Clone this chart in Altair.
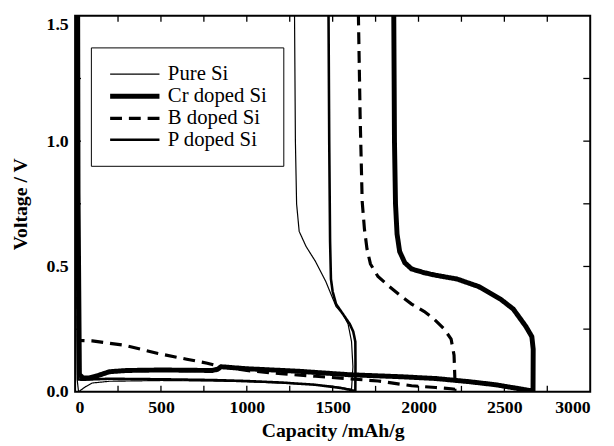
import altair as alt
import pandas as pd

series_names = ["Pure Si", "Cr doped Si", "B doped Si", "P doped Si"]

pure_cap = [8, 10, 12, 20, 60, 100, 200, 500, 800, 1000, 1200, 1400, 1500, 1610,
            1618, 1610, 1590, 1560, 1520, 1490, 1460, 1400, 1345, 1305, 1290, 1283, 1278]
pure_v = [1.5, 0.6, 0.05, 0.0, 0.02, 0.035, 0.042, 0.045, 0.043, 0.04, 0.035, 0.028, 0.022, 0.01,
          0.1, 0.2, 0.27, 0.31, 0.34, 0.39, 0.44, 0.52, 0.58, 0.64, 0.75, 1.0, 1.5]

cr_cap = [15, 17, 25, 45, 80, 120, 200, 300, 500, 800, 830, 850, 1000, 1300, 1600, 1900, 2100,
          2300, 2450, 2580, 2640, 2667, 2668, 2660, 2626, 2552, 2477, 2350, 2224, 2100, 2034,
          1960, 1920, 1890, 1875, 1866, 1860, 1856]
cr_v = [1.5, 0.8, 0.07, 0.055, 0.055, 0.062, 0.08, 0.085, 0.087, 0.085, 0.09, 0.10, 0.092, 0.082,
        0.068, 0.06, 0.053, 0.04, 0.028, 0.013, 0.006, 0.004, 0.17, 0.22, 0.26, 0.33, 0.37, 0.42,
        0.45, 0.465, 0.475, 0.49, 0.515, 0.56, 0.63, 0.75, 1.0, 1.5]

b_cap = [10, 12, 20, 100, 293, 483, 650, 770, 850, 1000, 1200, 1400, 1600, 1765, 1960, 2100, 2190,
         2212, 2213, 2207, 2190, 2150, 2090, 2034, 1960, 1902, 1830, 1764, 1720, 1700, 1685, 1672,
         1660, 1650]
b_v = [1.5, 0.6, 0.205, 0.203, 0.185, 0.153, 0.13, 0.114, 0.1, 0.085, 0.072, 0.062, 0.052, 0.043,
       0.024, 0.017, 0.012, 0.01, 0.03, 0.146, 0.21, 0.25, 0.29, 0.32, 0.35, 0.38, 0.42, 0.46,
       0.51, 0.57, 0.65, 0.76, 1.1, 1.5]

p_cap = [10, 12, 18, 40, 200, 500, 800, 1000, 1200, 1400, 1550, 1620, 1632, 1633, 1632, 1620, 1600,
         1560, 1520, 1500, 1490, 1485, 1480, 1476]
p_v = [1.5, 0.6, 0.05, 0.048, 0.052, 0.05, 0.047, 0.043, 0.037, 0.028, 0.015, 0.005, 0.002, 0.11,
       0.2, 0.24, 0.27, 0.31, 0.35, 0.40, 0.45, 0.6, 1.0, 1.5]

x_labels = [0, 500, 1000, 1500, 2000, 2500, 3000]
y_labels = [0.0, 0.5, 1.0, 1.5]
x_ticks = [250, 500, 750, 1000, 1250, 1500, 1750, 2000, 2250, 2500, 2750]
y_ticks = [0.25, 0.5, 0.75, 1.0, 1.25]

rows = []
for name, caps, vs in zip(series_names, [pure_cap, cr_cap, b_cap, p_cap], [pure_v, cr_v, b_v, p_v]):
    for i, (c, v) in enumerate(zip(caps, vs)):
        rows.append({"sample": name, "cap": c, "v": v, "idx": i})
df = pd.DataFrame(rows)

W, H = 522, 381
FONT = "Liberation Serif"
xscale = alt.Scale(domain=[0, 3000], nice=False, zero=False)
yscale = alt.Scale(domain=[0, 1.5], nice=False, zero=False)
xaxis = alt.Axis(values=x_labels, title="Capacity /mAh/g", format="d")
yaxis = alt.Axis(values=y_labels, title="Voltage / V", format=".1f",
                 labelBaseline={"condition": {"test": "datum.value >= 1.5", "value": "top"},
                                "value": "middle"})

leg = alt.Legend(
    title=None, orient="none", legendX=16, legendY=32,
    symbolType="M-0.9,0L4.1,0", symbolSize=400, symbolStrokeColor="black",
    symbolFillColor="transparent",
    labelFont=FONT, labelFontSize=21, labelColor="black", labelOffset=37,
    strokeColor="black", fillColor="white", padding=16, rowPadding=0,
)

lines = alt.Chart(df).mark_line(clip=True, color="black").encode(
    x=alt.X("cap:Q", scale=xscale, axis=xaxis),
    y=alt.Y("v:Q", scale=yscale, axis=yaxis),
    detail="sample:N",
    strokeWidth=alt.StrokeWidth("sample:N", sort=series_names,
                                scale=alt.Scale(type="ordinal", domain=series_names,
                                                range=[1.2, 5, 3.2, 2.6]),
                                legend=leg),
    strokeDash=alt.StrokeDash("sample:N", sort=series_names,
                              scale=alt.Scale(domain=series_names,
                                              range=[[1, 0], [1, 0], [12, 7], [1, 0]]),
                              legend=leg),
    order="idx:Q",
)

xt = pd.DataFrame({"t": x_ticks})
yt = pd.DataFrame({"t": y_ticks})

bottom_ticks = alt.Chart(xt).mark_rule(color="black", strokeWidth=1.3).encode(
    x=alt.X("t:Q", scale=xscale, axis=xaxis), y=alt.value(H), y2=alt.value(H - 6))
top_ticks = alt.Chart(xt).mark_rule(color="black", strokeWidth=1.3).encode(
    x=alt.X("t:Q", scale=xscale, axis=xaxis), y=alt.value(0), y2=alt.value(6))
left_ticks = alt.Chart(yt).mark_rule(color="black", strokeWidth=1.3).encode(
    y=alt.Y("t:Q", scale=yscale, axis=yaxis), x=alt.value(0), x2=alt.value(6))
right_ticks = alt.Chart(yt).mark_rule(color="black", strokeWidth=1.3).encode(
    y=alt.Y("t:Q", scale=yscale, axis=yaxis), x=alt.value(W), x2=alt.value(W - 7))

chart = alt.layer(lines, bottom_ticks, top_ticks, left_ticks, right_ticks).properties(
    width=W, height=H,
    autosize=alt.AutoSizeParams(type="none"),
    padding={"left": 68, "top": 5, "right": 16, "bottom": 52},
    background="white",
).configure_view(
    stroke="black", strokeWidth=2
).configure_axis(
    domain=False, ticks=False, grid=False,
    labelFont=FONT, labelFontWeight="bold", labelFontSize=18, labelColor="black",
    titleFont=FONT, titleFontWeight="bold", titleFontSize=20, titleColor="black",
).configure_axisX(
    labelPadding=7, titlePadding=4
).configure_axisY(
    labelPadding=7, titlePadding=16
)

chart.save("out.html", embed_options={"renderer": "svg", "actions": False})
